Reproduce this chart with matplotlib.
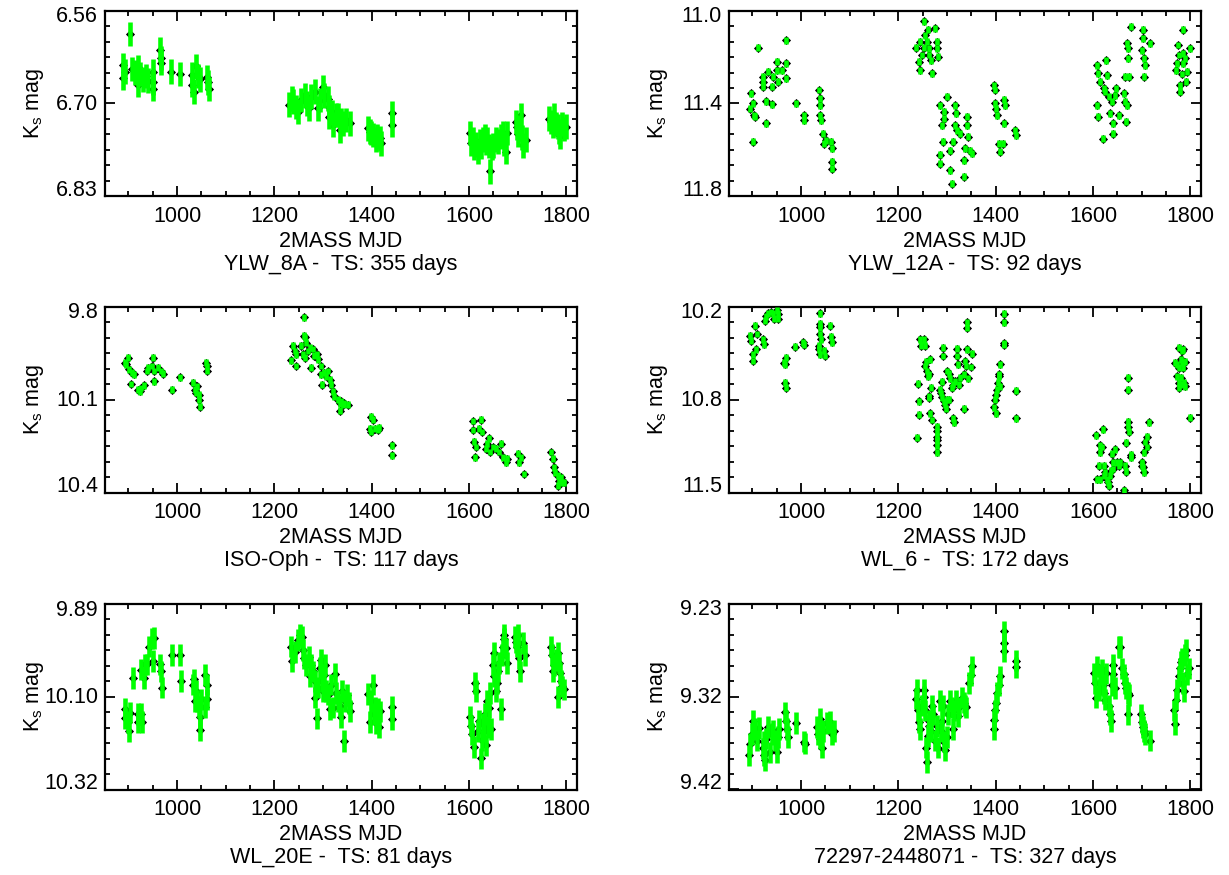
import matplotlib
matplotlib.use('Agg')
import matplotlib.pyplot as plt
import numpy as np
from matplotlib.ticker import FixedLocator

plt.rcParams['font.family'] = ['Liberation Sans', 'DejaVu Sans']
plt.rcParams['mathtext.default'] = 'regular'

# ---------------- data ----------------
titles = ["YLW_8A -  TS: 355 days", "YLW_12A -  TS: 92 days",
          "ISO-Oph -  TS: 117 days", "WL_6 -  TS: 172 days",
          "WL_20E -  TS: 81 days", "72297-2448071 -  TS: 327 days"]
y_ranges = [(6.56, 6.83), (11.0, 11.8), (9.8, 10.4), (10.2, 11.5), (9.89, 10.32), (9.23, 9.42)]
y_ticklabels = [["6.56", "6.70", "6.83"], ["11.0", "11.4", "11.8"], ["9.8", "10.1", "10.4"],
                ["10.2", "10.8", "11.5"], ["9.89", "10.10", "10.32"], ["9.23", "9.32", "9.42"]]
x_range = (852, 1822)
x_ticks = [1000, 1200, 1400, 1600, 1800]
mag_err = [0.018, 0.015, 0.011, 0.024, 0.025, 0.011]

p1_mjd = [890, 890, 893, 903, 908, 914, 920, 920, 924, 930, 936, 941, 951, 951, 951, 965, 967, 968, 987, 1006,
          1031, 1031, 1035, 1040, 1044, 1047, 1061, 1063, 1065,
          1231, 1236, 1238, 1245, 1249, 1255, 1262, 1268, 1272, 1276, 1283, 1290, 1294, 1300, 1303, 1310, 1312,
          1312, 1318, 1320, 1326, 1331, 1334, 1338, 1341, 1348, 1355,
          1392, 1396, 1399, 1402, 1409, 1412, 1417, 1420, 1441, 1441,
          1603, 1604, 1608, 1611, 1615, 1618, 1622, 1625, 1629, 1632, 1636, 1638, 1642, 1644, 1647, 1649, 1655,
          1660, 1666, 1670, 1673, 1676, 1679, 1696, 1698, 1700, 1703, 1706, 1708, 1710, 1717,
          1765, 1768, 1772, 1775, 1779, 1782, 1785, 1788, 1792, 1795, 1799]
p1_mag = [6.639, 6.658, 6.649, 6.594, 6.645, 6.650, 6.642, 6.668, 6.652, 6.660, 6.655, 6.662, 6.649, 6.664, 6.674,
          6.617, 6.629, 6.636, 6.649, 6.652, 6.653, 6.668, 6.678, 6.641, 6.655, 6.660, 6.657, 6.664, 6.674,
          6.697, 6.688, 6.692, 6.700, 6.707, 6.690, 6.683, 6.695, 6.702, 6.685, 6.678, 6.702, 6.690, 6.671, 6.683,
          6.688, 6.700, 6.714, 6.708, 6.726, 6.712, 6.712, 6.734, 6.720, 6.724, 6.719, 6.724,
          6.731, 6.736, 6.738, 6.741, 6.748, 6.743, 6.746, 6.753, 6.709, 6.726,
          6.738, 6.753, 6.748, 6.760, 6.755, 6.765, 6.750, 6.758, 6.748, 6.743, 6.752, 6.748, 6.757, 6.794, 6.760,
          6.756, 6.748, 6.750, 6.743, 6.738, 6.753, 6.765, 6.738, 6.722, 6.730, 6.740, 6.731, 6.712, 6.745, 6.756,
          6.748,
          6.717, 6.722, 6.728, 6.712, 6.725, 6.729, 6.736, 6.743, 6.725, 6.732, 6.729]

p2_mjd = [896, 898, 902, 902, 903, 905, 912, 922, 922, 922, 928, 928, 933, 940, 940, 943, 950, 951, 953, 960,
          969, 969, 970, 990, 1007, 1007, 1036, 1039, 1039, 1039, 1042, 1046, 1047, 1051, 1062, 1063, 1064, 1063,
          1236, 1243, 1245, 1245, 1248, 1253, 1253, 1255, 1258, 1260, 1262, 1264, 1267, 1269, 1276, 1279, 1280,
          1282,
          1286, 1289, 1291, 1293, 1294, 1300, 1286, 1286, 1306, 1306, 1311, 1313, 1317, 1317, 1319, 1321, 1326,
          1334, 1334, 1337, 1341, 1341, 1344, 1348, 1351,
          1396, 1399, 1399, 1401, 1402, 1406, 1408, 1416, 1417, 1419, 1417, 1440, 1442,
          1609, 1611, 1609, 1611, 1615, 1620, 1622, 1625, 1627, 1629, 1632, 1635, 1639, 1641, 1642, 1646, 1648,
          1653, 1663, 1666, 1668, 1670, 1666, 1671, 1673, 1670, 1675, 1679,
          1703, 1703, 1701, 1704, 1707, 1704, 1718,
          1786, 1774, 1799, 1785, 1776, 1789, 1773, 1786, 1771, 1793, 1783, 1792, 1778, 1778]
p2_mag = [11.422, 11.357, 11.400, 11.566, 11.450, 11.458, 11.160, 11.285, 11.307, 11.328, 11.390, 11.486, 11.263,
          11.328, 11.404, 11.285, 11.256, 11.220, 11.307, 11.256, 11.227, 11.292, 11.127, 11.400, 11.450, 11.472,
          11.342, 11.378, 11.407, 11.450, 11.472, 11.530, 11.573, 11.558, 11.566, 11.594, 11.652, 11.681,
          11.160, 11.220, 11.256, 11.134, 11.191, 11.045, 11.160, 11.105, 11.134, 11.083, 11.163, 11.191, 11.213,
          11.270, 11.076, 11.134, 11.163, 11.198,
          11.407, 11.494, 11.566, 11.436, 11.465, 11.371, 11.621, 11.659, 11.603, 11.688, 11.746, 11.566, 11.407,
          11.494, 11.443, 11.515, 11.530, 11.645, 11.717, 11.594, 11.458, 11.494, 11.544, 11.603, 11.614,
          11.321, 11.342, 11.400, 11.422, 11.450, 11.573, 11.609, 11.573, 11.385, 11.407, 11.486, 11.515, 11.537,
          11.235, 11.270, 11.407, 11.458, 11.307, 11.552, 11.335, 11.350, 11.213, 11.278, 11.371, 11.443, 11.393,
          11.486, 11.530, 11.364, 11.335, 11.450, 11.357, 11.393, 11.479, 11.407, 11.285, 11.206, 11.163, 11.141,
          11.285, 11.069,
          11.083, 11.119, 11.170, 11.206, 11.235, 11.285, 11.141,
          11.083, 11.148, 11.162, 11.184, 11.191, 11.206, 11.227, 11.227, 11.256, 11.263, 11.273, 11.307, 11.321,
          11.350]

p3_mjd = [893, 896, 900, 901, 907, 912, 905, 920, 924, 927, 933, 938, 941, 948, 951, 953, 953, 961, 968, 972,
          989, 1006, 1033, 1037, 1040, 1042, 1045, 1047, 1046, 1059, 1061, 1062,
          1260, 1260, 1262, 1266, 1238, 1242, 1245, 1235, 1245, 1255, 1258, 1262, 1269, 1273, 1279, 1281, 1288,
          1290, 1276, 1296, 1296, 1298, 1303, 1307, 1310, 1314, 1317, 1320, 1322, 1331, 1334, 1338, 1341, 1344,
          1334, 1351,
          1399, 1402, 1396, 1399, 1406, 1413, 1416, 1441, 1441,
          1608, 1608, 1611, 1614, 1612, 1621, 1625, 1626, 1635, 1638, 1642, 1644, 1649, 1655, 1662, 1666, 1669,
          1676, 1679, 1700, 1703, 1707, 1714,
          1768, 1772, 1775, 1776, 1782, 1785, 1789, 1792, 1796, 1783]
p3_mag = [9.980, 9.985, 9.964, 10.002, 10.013, 10.018, 10.049, 10.067, 10.073, 10.062, 10.053, 10.007, 9.996,
          9.991, 9.964, 10.007, 10.040, 9.996, 10.007, 10.016, 10.067, 10.027, 10.045, 10.067, 10.078, 10.056,
          10.100, 10.122, 10.084, 9.980, 10.007, 9.991,
          9.833, 9.893, 9.898, 9.915, 9.925, 9.942, 9.953, 9.972, 9.991, 9.925, 9.953, 9.964, 9.942, 9.931, 9.936,
          9.958, 9.953, 9.969, 9.996, 9.991, 10.018, 10.051, 10.013, 10.024, 10.007, 10.035, 10.051, 10.073,
          10.089, 10.100, 10.111, 10.105, 10.116, 10.111, 10.136, 10.116,
          10.155, 10.165, 10.193, 10.204, 10.193, 10.198, 10.191, 10.247, 10.280,
          10.169, 10.198, 10.236, 10.253, 10.286, 10.193, 10.165, 10.204, 10.258, 10.242, 10.225, 10.269, 10.253,
          10.258, 10.269, 10.242, 10.286, 10.302, 10.291, 10.275, 10.302, 10.286, 10.340,
          10.269, 10.291, 10.318, 10.335, 10.346, 10.362, 10.351, 10.367, 10.367, 10.378]

p4_mjd = [895, 898, 901, 902, 905, 907, 910, 922, 924, 926, 929, 933, 938, 943, 944, 950, 953, 953, 965, 967,
          969, 967, 969, 988, 1005, 1006, 1038, 1039, 1039, 1038, 1036, 1036, 1039, 1042, 1047, 1049, 1060, 1061,
          1063,
          1238, 1241, 1243, 1243, 1245, 1247, 1253, 1254, 1255, 1257, 1258, 1260, 1262, 1265, 1265, 1267, 1262,
          1264, 1269, 1279, 1279, 1279, 1280, 1280, 1280, 1286, 1287, 1289, 1293, 1296, 1298, 1300, 1305, 1291,
          1291, 1289, 1300, 1305, 1306, 1310, 1313, 1315, 1313, 1317, 1320, 1320, 1322, 1324, 1327, 1334, 1334,
          1337, 1339, 1341, 1342, 1342, 1344, 1349, 1351,
          1397, 1401, 1399, 1401, 1402, 1404, 1406, 1408, 1406, 1409, 1418, 1418, 1418, 1418, 1442, 1442,
          1607, 1612, 1614, 1615, 1618, 1620, 1622, 1609, 1615, 1622, 1625, 1629, 1630, 1632, 1636, 1637, 1639,
          1641, 1642, 1646, 1649, 1653, 1656, 1663, 1666, 1668, 1671, 1671, 1671, 1673, 1675, 1668, 1678, 1678,
          1701, 1703, 1704, 1705, 1707, 1710, 1711, 1716, 1701,
          1776, 1783, 1786, 1769, 1773, 1776, 1780, 1783, 1786, 1790, 1773, 1776, 1780, 1783, 1788, 1790, 1776,
          1799]
p4_mag = [10.401, 10.436, 10.531, 10.578, 10.330, 10.496, 10.389, 10.425, 10.460, 10.295, 10.266, 10.243, 10.235,
          10.247, 10.283, 10.224, 10.247, 10.283, 10.590, 10.602, 10.555, 10.732, 10.767, 10.479, 10.448, 10.465,
          10.243, 10.318, 10.342, 10.389, 10.472, 10.496, 10.531, 10.425, 10.507, 10.543, 10.330, 10.408, 10.448,
          11.117, 10.739, 10.862, 10.956, 10.425, 10.472, 10.425, 10.472, 10.614, 10.583, 10.649, 10.685, 10.673,
          10.566, 10.945, 10.767, 10.826, 10.838, 10.992, 11.039, 11.070, 11.110, 11.134, 11.169, 11.217, 10.779,
          10.803, 10.834, 10.862, 10.886, 10.914, 10.850, 10.850, 10.484, 10.543, 10.725, 10.649, 10.668, 10.701,
          10.767, 10.980, 11.008, 10.744, 10.720, 10.491, 10.543, 10.602, 10.744, 10.696, 10.673, 10.914, 10.578,
          10.614, 10.496, 10.306, 10.347, 10.701, 10.621, 10.526,
          10.904, 10.945, 10.850, 10.815, 10.779, 10.732, 10.685, 10.602, 10.673, 10.756, 10.247, 10.306, 10.455,
          10.465, 10.786, 10.980,
          11.098, 11.311, 11.169, 11.217, 11.181, 11.056, 11.311, 11.406, 11.406, 11.382, 11.358, 11.406, 11.429,
          11.453, 11.382, 11.346, 11.228, 11.287, 11.335, 11.198, 11.287, 11.311, 11.287, 11.484, 11.311, 11.354,
          10.696, 10.779, 11.004, 11.039, 11.075, 11.150, 11.235, 11.252, 11.287, 11.323, 11.358, 11.217, 11.146,
          11.110, 11.181, 11.008, 11.311,
          10.484, 10.507, 10.496, 10.590, 10.602, 10.626, 10.566, 10.590, 10.626, 10.583, 10.685, 10.732, 10.696,
          10.744, 10.732, 10.756, 10.767, 10.975]

p5_mjd = [893, 894, 899, 901, 903, 910, 919, 920, 926, 929, 927, 933, 934, 938, 943, 948, 953, 951, 965, 968,
          970, 989, 1006, 1008, 1033, 1035, 1037, 1038, 1042, 1045, 1047, 1048, 1050, 1057, 1061, 1062, 1057,
          1234, 1236, 1242, 1249, 1252, 1257, 1259, 1261, 1266, 1271, 1273, 1276, 1279, 1283, 1284, 1288, 1290,
          1293, 1295, 1298, 1300, 1303, 1305, 1307, 1310, 1314, 1317, 1320, 1324, 1327, 1331, 1334, 1336, 1339,
          1343, 1346, 1350, 1353, 1355,
          1392, 1396, 1399, 1402, 1405, 1407, 1409, 1413, 1416, 1418, 1441, 1441,
          1603, 1604, 1606, 1611, 1612, 1614, 1618, 1621, 1625, 1626, 1628, 1630, 1633, 1635, 1637, 1640, 1642,
          1644, 1645, 1649, 1651, 1652, 1655, 1658, 1659, 1662, 1666, 1667, 1669, 1671, 1673, 1676, 1678, 1694,
          1696, 1699, 1700, 1701, 1703, 1705, 1710, 1715,
          1768, 1770, 1772, 1775, 1779, 1782, 1785, 1787, 1789, 1783, 1792, 1796]
p5_mag = [10.134, 10.155, 10.164, 10.185, 10.142, 10.062, 10.145, 10.164, 10.145, 10.164, 10.042, 10.062, 10.030,
          10.030, 9.989, 9.970, 9.969, 10.022, 10.030, 10.046, 10.084, 10.008, 10.008, 10.068, 10.077, 10.065,
          10.115, 10.092, 10.115, 10.129, 10.152, 10.182, 10.111, 10.055, 10.077, 10.111, 10.129,
          9.989, 10.022, 10.001, 9.974, 9.962, 9.966, 9.997, 10.016, 10.031, 10.012, 10.058, 10.031, 10.046,
          10.069, 10.107, 10.155, 10.084, 10.039, 10.020, 10.069, 10.092, 10.054, 10.031, 10.092, 10.100, 10.134,
          10.077, 10.130, 10.052, 10.096, 10.115, 10.126, 10.153, 10.092, 10.208, 10.115, 10.101, 10.119, 10.138,
          10.098, 10.164, 10.115, 10.077, 10.145, 10.130, 10.167, 10.134, 10.176, 10.139, 10.129, 10.157,
          10.152, 10.172, 10.191, 10.222, 10.073, 10.092, 10.184, 10.161, 10.248, 10.206, 10.168, 10.184, 10.145,
          10.218, 10.115, 10.176, 10.130, 10.096, 10.180, 10.031, 10.004, 10.058, 10.092, 10.073, 10.046, 10.027,
          10.134, 10.008, 9.989, 9.970, 9.961, 9.993, 10.027, 9.966, 9.978, 9.989, 9.981, 9.961, 10.016, 10.046,
          9.981, 10.008,
          9.989, 10.008, 10.046, 10.031, 10.020, 10.004, 10.027, 10.050, 10.069, 10.106, 10.081, 10.088]

p6_mjd = [894, 895, 899, 902, 905, 909, 914, 921, 923, 926, 923, 929, 933, 936, 940, 943, 947, 950, 953, 955,
          967, 969, 971, 974, 990, 1006, 1008, 1032, 1034, 1038, 1039, 1043, 1046, 1053, 1060, 1063, 1067,
          1237, 1239, 1241, 1243, 1245, 1248, 1252, 1253, 1255, 1257, 1258, 1260, 1262, 1264, 1267, 1269, 1272,
          1276, 1279, 1282, 1286, 1287, 1289, 1291, 1294, 1296, 1300, 1303, 1306, 1310, 1313, 1315, 1319, 1322,
          1324, 1330, 1334, 1337, 1339, 1346, 1349, 1351,
          1396, 1397, 1399, 1401, 1402, 1406, 1409, 1418, 1418, 1418, 1442, 1442,
          1603, 1605, 1607, 1608, 1612, 1615, 1618, 1620, 1623, 1625, 1627, 1632, 1636, 1637, 1639, 1641, 1642,
          1646, 1653, 1655, 1660, 1663, 1666, 1668, 1671, 1673, 1675, 1699, 1701, 1703, 1705, 1707, 1718,
          1767, 1769, 1771, 1773, 1776, 1778, 1780, 1783, 1786, 1788, 1790, 1792, 1793, 1797]
p6_mag = [9.385, 9.373, 9.363, 9.350, 9.358, 9.370, 9.357, 9.378, 9.385, 9.390, 9.371, 9.368, 9.356, 9.382,
          9.363, 9.360, 9.370, 9.382, 9.366, 9.358, 9.341, 9.350, 9.358, 9.366, 9.352, 9.371, 9.373, 9.356, 9.363,
          9.348, 9.368, 9.377, 9.360, 9.352, 9.351, 9.363, 9.360,
          9.327, 9.318, 9.339, 9.351, 9.358, 9.334, 9.318, 9.325, 9.339, 9.377, 9.392, 9.365, 9.350, 9.355, 9.360,
          9.334, 9.343, 9.370, 9.355, 9.377, 9.329, 9.360, 9.350, 9.334, 9.371, 9.380, 9.366, 9.343, 9.329, 9.336,
          9.358, 9.339, 9.329, 9.345, 9.336, 9.326, 9.331, 9.334, 9.336, 9.311, 9.303, 9.294,
          9.358, 9.349, 9.339, 9.331, 9.321, 9.313, 9.304, 9.258, 9.270, 9.278, 9.288, 9.295,
          9.301, 9.311, 9.326, 9.294, 9.318, 9.302, 9.297, 9.313, 9.321, 9.328, 9.301, 9.334, 9.343, 9.350, 9.313,
          9.302, 9.292, 9.316, 9.274, 9.274, 9.296, 9.302, 9.311, 9.316, 9.321, 9.343, 9.323, 9.343, 9.351, 9.356,
          9.360, 9.363, 9.370,
          9.339, 9.353, 9.328, 9.318, 9.304, 9.296, 9.289, 9.286, 9.311, 9.319, 9.282, 9.277, 9.302, 9.296]

mjd_sets = [p1_mjd, p2_mjd, p3_mjd, p4_mjd, p5_mjd, p6_mjd]
mag_sets = [p1_mag, p2_mag, p3_mag, p4_mag, p5_mag, p6_mag]

# ---------------- figure ----------------
FW, FH = 1229, 875
fig = plt.figure(figsize=(FW / 100, FH / 100), dpi=100)
lefts = [105, 729]
tops = [10.7, 307, 604]
AW, AH = 472, 185.5
FS = 15.5
GREEN = '#00ff00'

for i in range(6):
    r, c = divmod(i, 2)
    ax = fig.add_axes([lefts[c] / FW, 1 - (tops[r] + AH) / FH, AW / FW, AH / FH])
    x = np.array(mjd_sets[i], dtype=float)
    y = np.array(mag_sets[i], dtype=float)
    e = mag_err[i]
    ax.plot(x, y, linestyle='none', marker='D', ms=4.2, mfc='black', mec='black', mew=0.6, zorder=2)
    ax.vlines(x, y - e, y + e, colors=GREEN, linewidth=3.3, zorder=3)

    y0, y1 = y_ranges[i]
    ax.set_xlim(*x_range)
    ax.set_ylim(y1, y0)

    # x ticks
    ax.xaxis.set_major_locator(FixedLocator(x_ticks))
    ax.xaxis.set_minor_locator(FixedLocator(np.arange(900, 1821, 50)))
    ax.set_xticklabels([str(t) for t in x_ticks])
    # y ticks
    ymid = (y0 + y1) / 2
    ax.yaxis.set_major_locator(FixedLocator([y0, ymid, y1]))
    ax.yaxis.set_minor_locator(FixedLocator([y0 + k * (y1 - y0) / 12 for k in range(13)]))
    ax.set_yticklabels([])

    ax.tick_params(which='both', direction='in', top=True, right=True, width=1.3, colors='black')
    ax.tick_params(which='major', length=7.2)
    ax.tick_params(which='minor', length=3.6)
    ax.tick_params(axis='x', which='major', labelsize=FS, pad=7)
    for s in ax.spines.values():
        s.set_linewidth(1.6)

    # y tick labels (drawn inside extent like the original)
    for val, lab, dy in zip([y0, ymid, y1], y_ticklabels[i], [-6, -1, 6]):
        ax.annotate(lab, xy=(0, val), xycoords=('axes fraction', 'data'),
                    xytext=(-7, dy), textcoords='offset pixels',
                    ha='right', va='center', fontsize=FS)

    ax.annotate('K$_s$ mag', xy=(0, 0.5), xycoords='axes fraction', xytext=(-71, 0),
                textcoords='offset pixels', rotation=90, ha='center', va='center', fontsize=FS)
    ax.annotate('2MASS MJD', xy=(0.5, 0), xycoords='axes fraction', xytext=(0, -45),
                textcoords='offset pixels', ha='center', va='center', fontsize=FS)
    ax.annotate(titles[i], xy=(0.5, 0), xycoords='axes fraction', xytext=(0, -68),
                textcoords='offset pixels', ha='center', va='center', fontsize=FS)

fig.savefig('out.png', dpi=100)
